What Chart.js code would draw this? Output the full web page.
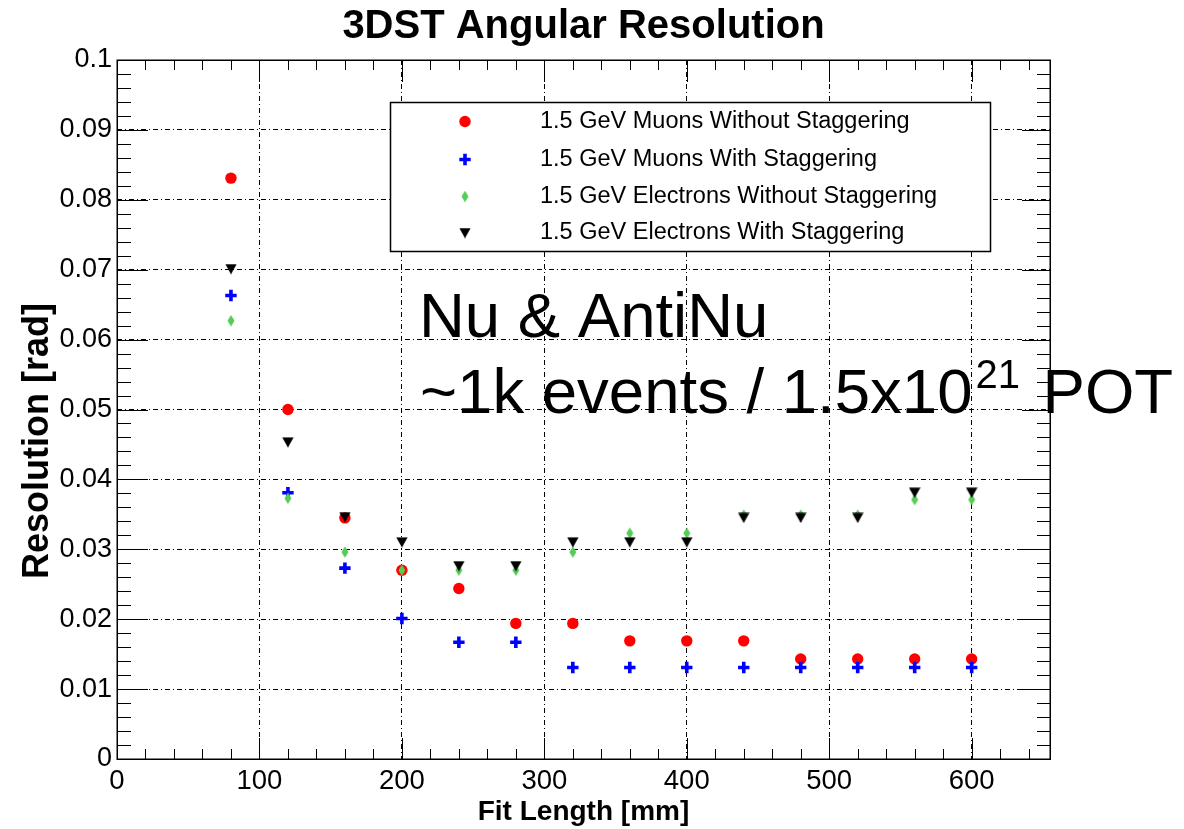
<!DOCTYPE html>
<html>
<head>
<meta charset="utf-8">
<script src="https://cdn.jsdelivr.net/npm/chart.js@4.4.1/dist/chart.umd.min.js"></script>
<style>
html,body{margin:0;padding:0;background:#fff;}
canvas{display:block;}
</style>
</head>
<body>
<canvas id="c" width="1184" height="829"></canvas>
<script>
// ---- data ----
const fitLengths = [80,120,160,200,240,280,320,360,400,440,480,520,560,600];
const muonsNoStag = [0.0831,0.0500,0.0345,0.0270,0.0244,0.0194,0.0194,0.0169,0.0169,0.0169,0.0143,0.0143,0.0143,0.0143];
const muonsStag   = [0.0663,0.0381,0.0273,0.0201,0.0167,0.0167,0.0131,0.0131,0.0131,0.0131,0.0131,0.0131,0.0131,0.0131];
const elecNoStag  = [0.0627,0.0373,0.0296,0.0270,0.0270,0.0270,0.0296,0.0323,0.0323,0.0349,0.0349,0.0349,0.0371,0.0371];
const elecStag    = [0.0701,0.0453,0.0346,0.0310,0.0276,0.0276,0.0310,0.0310,0.0310,0.0345,0.0345,0.0345,0.0381,0.0381];
const seriesLabels = [
  '1.5 GeV Muons Without Staggering',
  '1.5 GeV Muons With Staggering',
  '1.5 GeV Electrons Without Staggering',
  '1.5 GeV Electrons With Staggering'
];
const xTickValues = [0,100,200,300,400,500,600];
const xTickLabels = ['0','100','200','300','400','500','600'];
const yTickValues = [0,0.01,0.02,0.03,0.04,0.05,0.06,0.07,0.08,0.09,0.1];
const yTickLabels = ['0','0.01','0.02','0.03','0.04','0.05','0.06','0.07','0.08','0.09','0.1'];
const chartTitle = '3DST Angular Resolution';
const xTitle = 'Fit Length [mm]';
const yTitle = 'Resolution [rad]';
const noteLine1 = 'Nu & AntiNu';
const noteLine2a = '~1k events / 1.5x10';
const noteSup = '21';
const noteLine2b = 'POT';

const FONT = "'Liberation Sans', Arial, Helvetica, sans-serif";

// ---- marker images ----
function makeDiamond(){
  const c = document.createElement('canvas'); c.width = 8; c.height = 12;
  const g = c.getContext('2d'); g.fillStyle = '#55cc55';
  g.beginPath(); g.moveTo(4,0.3); g.lineTo(7.5,6); g.lineTo(4,11.7); g.lineTo(0.5,6); g.closePath(); g.fill();
  return c;
}
function makeTriDown(){
  const c = document.createElement('canvas'); c.width = 12; c.height = 11;
  const g = c.getContext('2d'); g.fillStyle = '#000';
  g.beginPath(); g.moveTo(0.3,0.5); g.lineTo(11.7,0.5); g.lineTo(6,10.7); g.closePath(); g.fill();
  return c;
}
const diamondImg = makeDiamond();
const triImg = makeTriDown();

function pts(ys){ return fitLengths.map((x,i)=>({x:x, y:ys[i]})); }

const datasets = [
  {label: seriesLabels[0], data: pts(muonsNoStag), pointStyle:'circle', pointRadius:5.7, backgroundColor:'#ff0000', borderColor:'#ff0000', borderWidth:0, order:4},
  {label: seriesLabels[1], data: pts(muonsStag), pointStyle:'cross', pointRadius:5.7, backgroundColor:'#0000ff', borderColor:'#0000ff', borderWidth:3.6, order:3},
  {label: seriesLabels[2], data: pts(elecNoStag), pointStyle: diamondImg, pointRadius:6, backgroundColor:'#55cc55', borderColor:'#55cc55', borderWidth:0, order:2},
  {label: seriesLabels[3], data: pts(elecStag), pointStyle: triImg, pointRadius:6, backgroundColor:'#000', borderColor:'#000', borderWidth:0, order:1}
];

function drawMarker(ctx, ds, x, y){
  ctx.save();
  const s = ds.pointStyle;
  if (s === 'circle'){
    ctx.fillStyle = ds.backgroundColor;
    ctx.beginPath(); ctx.arc(x, y, ds.pointRadius, 0, Math.PI*2); ctx.fill();
  } else if (s === 'cross'){
    ctx.strokeStyle = ds.borderColor; ctx.lineWidth = ds.borderWidth;
    ctx.beginPath();
    ctx.moveTo(x - ds.pointRadius, y); ctx.lineTo(x + ds.pointRadius, y);
    ctx.moveTo(x, y - ds.pointRadius); ctx.lineTo(x, y + ds.pointRadius);
    ctx.stroke();
  } else if (typeof s === 'object'){
    ctx.drawImage(s, x - s.width/2, y - s.height/2);
  }
  ctx.restore();
}

// ---- plugins ----
const framePlugin = {
  id:'frame',
  beforeDatasetsDraw(chart){
    const ctx = chart.ctx, xs = chart.scales.x, ys = chart.scales.y;
    const {left,right,top,bottom} = chart.chartArea;
    ctx.save();
    ctx.strokeStyle = '#000'; ctx.lineWidth = 1;
    ctx.beginPath();
    for (let k = 0; k * 20 <= xs.max; k++){
      const px = Math.round(xs.getPixelForValue(k*20)) + 0.5;
      const major = (k % 5 === 0);
      const lb = major ? 21 : 10, lt = major ? 22 : 10;
      ctx.moveTo(px, bottom); ctx.lineTo(px, bottom - lb);
      ctx.moveTo(px, top); ctx.lineTo(px, top + lt);
    }
    for (let k = 0; k <= 50; k++){
      const py = Math.round(ys.getPixelForValue(k*0.002)) + 0.5;
      const major = (k % 5 === 0);
      const ll = major ? 31 : 14, lr = major ? 28 : 13;
      ctx.moveTo(left, py); ctx.lineTo(left + ll, py);
      ctx.moveTo(right, py); ctx.lineTo(right - lr, py);
    }
    ctx.stroke();
    ctx.lineWidth = 1.5;
    ctx.strokeRect(Math.round(left)+0.25, Math.round(top)+0.25, Math.round(right)-Math.round(left), Math.round(bottom)-Math.round(top));
    ctx.restore();
  }
};

const overlayPlugin = {
  id:'overlay',
  afterDatasetsDraw(chart){
    const ctx = chart.ctx;
    ctx.save();
    // legend box
    ctx.fillStyle = '#fff';
    ctx.fillRect(390, 102, 601, 150);
    ctx.strokeStyle = '#000'; ctx.lineWidth = 1.5;
    ctx.strokeRect(390.5, 102.5, 600, 149);
    const rows = [121.5, 159.5, 196.5, 233];
    ctx.font = '23.5px ' + FONT; ctx.fillStyle = '#000';
    ctx.textAlign = 'left'; ctx.textBaseline = 'middle';
    chart.data.datasets.forEach((ds, i) => {
      drawMarker(ctx, ds, 465, rows[i]);
      ctx.fillStyle = '#000';
      ctx.fillText(ds.label, 540, rows[i]);
    });
    // annotation
    ctx.textBaseline = 'alphabetic';
    ctx.font = '63.5px ' + FONT;
    ctx.fillText(noteLine1, 419, 337);
    ctx.fillText(noteLine2a, 420, 413);
    let xpos = 420 + ctx.measureText(noteLine2a).width + 3;
    ctx.font = '40px ' + FONT;
    ctx.fillText(noteSup, xpos, 388);
    xpos += ctx.measureText(noteSup).width;
    ctx.font = '63.5px ' + FONT;
    xpos += ctx.measureText(' ').width + 5;
    ctx.fillText(noteLine2b, xpos, 413);
    // y title
    ctx.translate(38, 441);
    ctx.rotate(-Math.PI/2);
    ctx.font = 'bold 36px ' + FONT;
    ctx.textAlign = 'center'; ctx.textBaseline = 'middle';
    ctx.fillText(yTitle, 0, 0);
    ctx.restore();
  }
};

new Chart(document.getElementById('c'), {
  type:'scatter',
  data:{datasets: datasets},
  options:{
    responsive:false,
    animation:false,
    events:[],
    layout:{padding:{left:0,right:134,top:0,bottom:0}},
    plugins:{
      legend:{display:false},
      tooltip:{enabled:false},
      title:{display:true, text:chartTitle, fullSize:false, color:'#000',
        font:{family:FONT, size:40, weight:'bold'}, padding:{top:3,bottom:9}}
    },
    scales:{
      x:{
        type:'linear', min:0, max:655,
        afterBuildTicks:(s)=>{ s.ticks = xTickValues.map(v=>({value:v})); },
        afterFit:(s)=>{ s.height = 70; },
        ticks:{padding:6, color:'#000', font:{family:FONT, size:27.5}, maxRotation:0, autoSkip:false,
          callback:(v,i)=>xTickLabels[i]},
        grid:{color:'#000', lineWidth:1, drawTicks:false},
        border:{display:false, dash:[5,3,1,3]},
        title:{display:true, text:xTitle, color:'#000', font:{family:FONT, size:28, weight:'bold'}, padding:{top:0,bottom:0}}
      },
      y:{
        type:'linear', min:0, max:0.1,
        afterBuildTicks:(s)=>{ s.ticks = yTickValues.map(v=>({value:v})); },
        afterFit:(s)=>{ s.width = 117; },
        ticks:{padding:5, color:'#000', font:{family:FONT, size:27}, autoSkip:false,
          callback:(v,i)=>yTickLabels[i]},
        grid:{color:'#000', lineWidth:1, drawTicks:false},
        border:{display:false, dash:[5,3,1,3]},
        title:{display:false}
      }
    }
  },
  plugins:[framePlugin, overlayPlugin]
});
</script>
</body>
</html>
